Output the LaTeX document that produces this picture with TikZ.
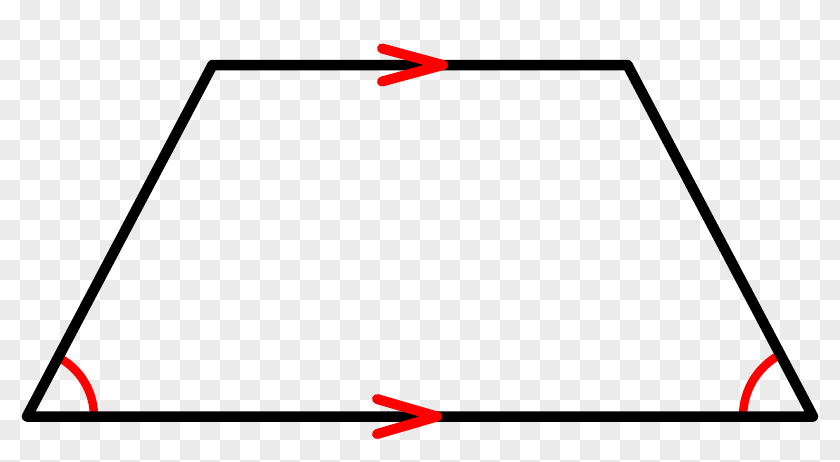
\documentclass[tikz,border=0pt]{standalone}
\usetikzlibrary{calc}
\definecolor{checker}{RGB}{235,235,235}
\definecolor{markred}{RGB}{255,0,0}
\tikzset{
  side/.style={line width=10.5pt, line join=round, line cap=round, black},
  parmark/.style={line width=10pt, line join=round, line cap=round, markred},
  anglemark/.style={line width=8.5pt, markred},
}
\begin{document}
\begin{tikzpicture}[x=1pt,y=-1pt]
\useasboundingbox (0,0) rectangle (840,461);
\clip (0,0) rectangle (840,461);
% checkerboard background
\fill[white] (0,0) rectangle (840,461);
\foreach \i in {0,...,41} {
  \foreach \j in {0,...,23} {
    \pgfmathtruncatemacro\k{mod(\i+\j,2)}
    \ifnum\k=1 \fill[checker] (\i*20,\j*20) rectangle ++(20,20); \fi
  }
}
\coordinate (A) at (27,416.5);
\coordinate (B) at (212.5,65);
\coordinate (C) at (627.5,65);
\coordinate (D) at (813,416.5);
% angle marks
\draw[anglemark] ($(A)+(67,0)$) arc[start angle=0, end angle=-62.2, radius=67];
\draw[anglemark] ($(D)+(-70,0)$) arc[start angle=180, end angle=242.2, radius=70];
% trapezoid
\draw[side] (A) -- (B) -- (C) -- (D) -- cycle;
% parallel marks
\coordinate (t1) at (382,48.5);
\coordinate (tt) at (443,65);
\coordinate (t2) at (382,81.5);
\draw[parmark] (t1) -- (tt) -- (t2);
\coordinate (b1) at (377,399);
\coordinate (bt) at (437,416.5);
\coordinate (b2) at (377,434);
\draw[parmark] (b1) -- (bt) -- (b2);
\end{tikzpicture}
\end{document}
